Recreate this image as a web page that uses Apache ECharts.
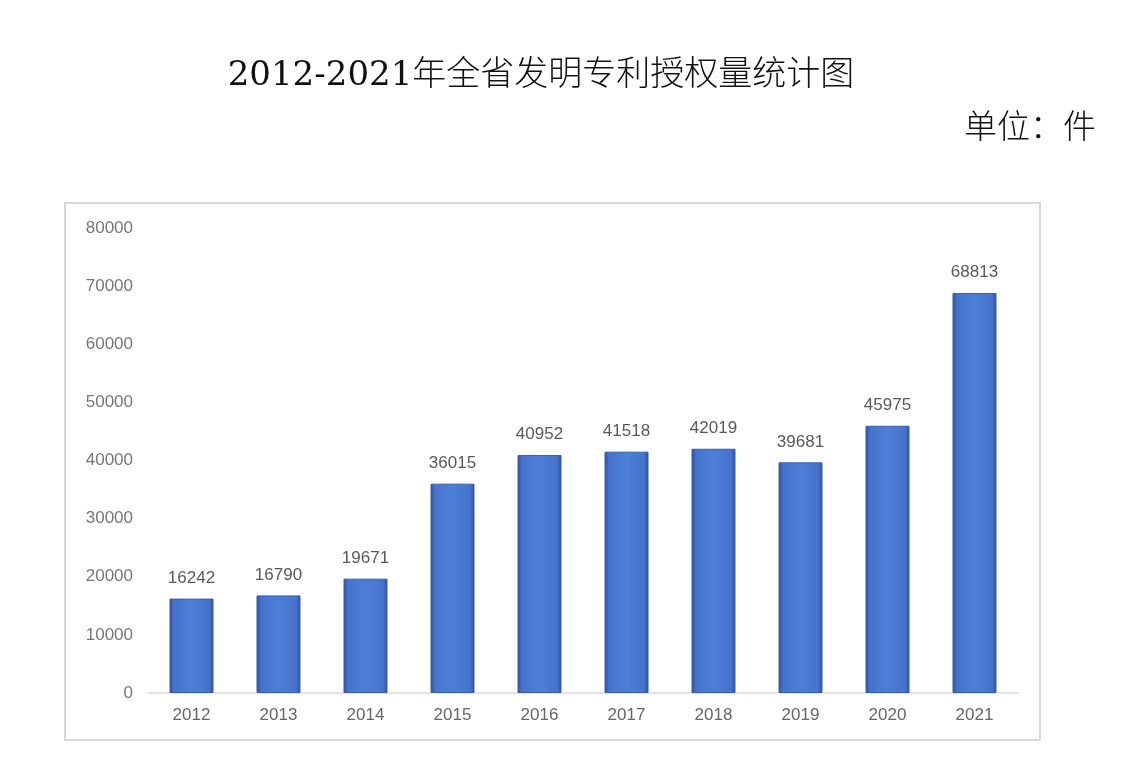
<!DOCTYPE html>
<html>
<head>
<meta charset="utf-8">
<script src="https://cdn.jsdelivr.net/npm/echarts@6/dist/echarts.min.js"></script>
<style>
  html, body { margin: 0; padding: 0; background: #fff; }
  #chart { width: 1125px; height: 784px; }
</style>
</head>
<body>
<div id="chart"></div>
<script>
// 年份与授权量
const years = ['2012', '2013', '2014', '2015', '2016', '2017', '2018', '2019', '2020', '2021'];
const grants = [16242, 16790, 19671, 36015, 40952, 41518, 42019, 39681, 45975, 68813];

const chart = echarts.init(document.getElementById('chart'));

const barColor = {
  type: 'linear', x: 0, y: 0, x2: 1, y2: 0,
  colorStops: [
    { offset: 0, color: '#2c4f96' },
    { offset: 0.1, color: '#4673cc' },
    { offset: 0.5, color: '#4d7fd8' },
    { offset: 0.9, color: '#4673cc' },
    { offset: 1, color: '#2c4f96' }
  ]
};

chart.setOption({
  backgroundColor: '#fff',
  title: [
    {
      text: '2012-2021年全省发明专利授权量统计图',
      left: 536,
      top: 54,
      textAlign: 'center',
      textStyle: {
        fontFamily: "'DejaVu Serif', 'Noto Sans CJK SC'",
        fontWeight: 300,
        fontSize: 34,
        color: '#111'
      }
    },
    {
      text: '单位：件',
      right: 24,
      top: 104,
      textStyle: {
        fontFamily: "'Noto Sans CJK SC'",
        fontWeight: 300,
        fontSize: 33,
        color: '#111'
      }
    }
  ],
  graphic: [{
    type: 'rect',
    shape: { x: 65, y: 203, width: 975, height: 537 },
    style: { fill: 'none', stroke: '#d9d9d9', lineWidth: 2 },
    silent: true
  }],
  grid: { left: 148, right: 107, top: 228, bottom: 91 },
  xAxis: {
    type: 'category',
    data: years,
    axisLine: { lineStyle: { color: '#d9d9d9', width: 1.5 } },
    axisTick: { show: false },
    axisLabel: {
      color: '#666',
      fontSize: 17,
      fontFamily: "'Liberation Sans', sans-serif",
      margin: 14
    }
  },
  yAxis: {
    type: 'value',
    min: 0,
    max: 80000,
    interval: 10000,
    axisLine: { show: false },
    axisTick: { show: false },
    splitLine: { show: false },
    axisLabel: {
      color: '#777',
      fontSize: 17,
      fontFamily: "'Liberation Sans', sans-serif",
      margin: 15,
      formatter: v => String(v)
    }
  },
  series: [{
    type: 'bar',
    data: grants,
    barWidth: 44,
    itemStyle: {
      color: barColor,
      borderColor: '#3a5fa8',
      borderWidth: 1
    },
    label: {
      show: true,
      position: 'top',
      distance: 12,
      color: '#595959',
      fontSize: 17,
      fontFamily: "'Liberation Sans', sans-serif"
    }
  }]
});
</script>
</body>
</html>
